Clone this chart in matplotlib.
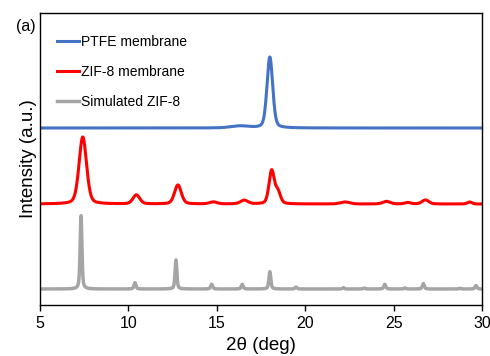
import numpy as np
import matplotlib
matplotlib.use("Agg")
import matplotlib.pyplot as plt

plt.rcParams['font.family'] = ['Liberation Sans', 'DejaVu Sans']

# Peak tables (2theta position, height above baseline, FWHM)
ptfe_baseline = 177.0
ptfe_pos = [16.3, 18.0]
ptfe_height = [2.0, 71.0]
ptfe_fwhm = [1.2, 0.38]

zif_baseline = 101.0
zif_pos = [7.42, 10.45, 12.8, 14.8, 16.55, 18.1, 18.45, 22.25, 24.6, 25.8, 26.8, 29.3]
zif_height = [67.0, 9.0, 19.0, 2.0, 3.7, 33.0, 12.0, 2.0, 2.6, 1.5, 4.0, 2.0]
zif_fwhm = [0.5, 0.45, 0.45, 0.5, 0.5, 0.35, 0.35, 0.6, 0.5, 0.4, 0.45, 0.3]

sim_baseline = 16.0
sim_pos = [7.32, 10.37, 12.69, 14.71, 16.44, 18.0, 19.48, 22.16, 23.34, 24.5, 25.64, 26.68, 28.75, 29.66]
sim_height = [73.3, 6.3, 29.0, 4.7, 4.7, 17.3, 2.0, 1.3, 1.0, 4.7, 1.0, 5.5, 0.8, 3.5]
sim_fwhm = [0.12, 0.13, 0.12, 0.13, 0.13, 0.13, 0.13, 0.13, 0.13, 0.13, 0.13, 0.13, 0.13, 0.13]

labels = ["PTFE membrane", "ZIF-8 membrane", "Simulated ZIF-8"]
colors = ["#4472C4", "#FF0000", "#A5A5A5"]

x = np.linspace(5, 30, 5001)


def pattern(baseline, pos, height, fwhm, eta=0.5):
    y = np.full_like(x, baseline)
    for p, h, w in zip(pos, height, fwhm):
        g = np.exp(-4 * np.log(2) * ((x - p) / w) ** 2)
        l = 1.0 / (1.0 + 4 * ((x - p) / w) ** 2)
        y += h * (eta * l + (1 - eta) * g)
    return y


fig = plt.figure(figsize=(4.9, 3.56), dpi=100)
ax = fig.add_axes([40 / 490, 1 - 305 / 356, 442 / 490, 292 / 356])

traces = [
    pattern(ptfe_baseline, ptfe_pos, ptfe_height, ptfe_fwhm, 0.3),
    pattern(zif_baseline, zif_pos, zif_height, zif_fwhm, 0.3),
    pattern(sim_baseline, sim_pos, sim_height, sim_fwhm, 0.5),
]
lws = [2.2, 2.2, 2.5]
for y, c, lab, lw in zip(traces, colors, labels, lws):
    ax.plot(x, y, color=c, lw=lw, label=lab)

ax.set_xlim(5, 30)
ax.set_ylim(0, 292)
ax.set_xticks([5, 10, 15, 20, 25, 30])
ax.set_yticks([])
ax.tick_params(axis='x', direction='out', length=4, width=1, labelsize=11.5, pad=4)
for s in ax.spines.values():
    s.set_linewidth(1.0)
ax.set_xlabel("2θ (deg)", fontsize=13.5, labelpad=4)
ax.set_ylabel("Intensity (a.u.)", fontsize=13.5, labelpad=2)

leg = ax.legend(loc='upper left', frameon=False, fontsize=10, handlelength=1.6,
                handletextpad=0.15, labelspacing=1.15, bbox_to_anchor=(0.025, 0.945),
                borderaxespad=0)
fig.text(16 / 490, 1 - 26 / 356, "(a)", fontsize=11.5, va='center', ha='left')

fig.savefig("out.png", dpi=100)
